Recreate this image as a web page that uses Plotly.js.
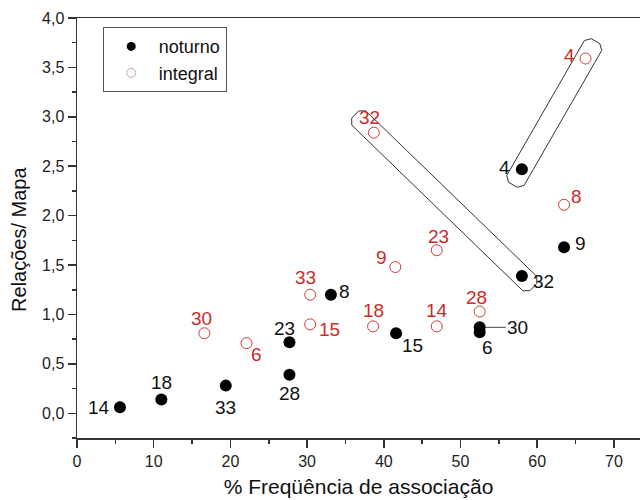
<!DOCTYPE html>
<html>
<head>
<meta charset="utf-8">
<script src="https://cdn.plot.ly/plotly-3.0.1.min.js"></script>
<style>body{margin:0;background:#fff}#chart{width:640px;height:500px}</style>
</head>
<body>
<div id="chart"></div>
<script>
// ---- data ----
const noturnoLabels = ['14','18','33','28','23','8','15','30','6','32','9','4'];
const noturnoX = [5.6, 11.0, 19.4, 27.7, 27.7, 33.1, 41.6, 52.5, 52.5, 58.0, 63.5, 58.0];
const noturnoY = [0.06, 0.14, 0.28, 0.39, 0.72, 1.20, 0.81, 0.87, 0.82, 1.39, 1.68, 2.47];

const integralLabels = ['30','6','33','15','18','9','23','14','28','32','8','4'];
const integralX = [16.6, 22.1, 30.4, 30.4, 38.6, 41.5, 46.9, 46.9, 52.5, 38.7, 63.5, 66.3];
const integralY = [0.81, 0.71, 1.20, 0.90, 0.88, 1.48, 1.65, 0.88, 1.03, 2.84, 2.11, 3.59];

// ---- label placement (pixel offsets, dy down) ----
const noturnoOff = [[-21,0],[0,-17],[0,22],[0,19],[-5,-14],[14,-3],[16,12],[38,0],[8,15],[22,6],[16,-4],[-17,-2]];
const integralOff = [[-3,-15],[10,11],[-5,-17],[19,5],[0,-16],[-14,-10],[2,-14],[0,-16],[-3,-14],[-4,-15],[12,-8],[-16,-3]];

// ---- layout geometry ----
const W = 640, H = 500;
const M = {l: 77, r: 0, t: 18, b: 62};
const xRange = [0, 73.4], yRange = [-0.25, 4.0];
const plotW = W - M.l - M.r, plotH = H - M.t - M.b;
const sx = plotW / (xRange[1] - xRange[0]);
const sy = plotH / (yRange[1] - yRange[0]);
const toPx = (x, y) => [M.l + (x - xRange[0]) * sx, M.t + (yRange[1] - y) * sy];
const toData = (px, py) => [xRange[0] + (px - M.l) / sx, yRange[1] - (py - M.t) / sy];

function capsule(p1, p2, e1, e2, w, c) {
  const a = toPx(p1[0], p1[1]), b = toPx(p2[0], p2[1]);
  const dx = b[0] - a[0], dy = b[1] - a[1];
  const L = Math.hypot(dx, dy);
  const u = [dx / L, dy / L], n = [-u[1], u[0]];
  const pts = [[-e1, -w + c], [-e1 + c, -w], [L + e2 - c, -w], [L + e2, -w + c],
               [L + e2, w - c], [L + e2 - c, w], [-e1 + c, w], [-e1, w - c]];
  const path = pts.map((p, i) => {
    const px = a[0] + u[0] * p[0] + n[0] * p[1];
    const py = a[1] + u[1] * p[0] + n[1] * p[1];
    const d = toData(px, py);
    return (i ? 'L' : 'M') + d[0].toFixed(4) + ',' + d[1].toFixed(4);
  }).join(' ') + ' Z';
  return {type: 'path', xref: 'x', yref: 'y', path: path, line: {color: '#333', width: 1}};
}

const RED = '#cc2b2b';
const FONT = 'Liberation Sans, Arial, sans-serif';
const LBL = 19;

const traces = [
  {type: 'scatter', mode: 'markers', name: 'noturno', x: noturnoX, y: noturnoY, showlegend: false,
   marker: {symbol: 'circle', size: 12, color: '#000'}},
  {type: 'scatter', mode: 'markers', name: 'integral', x: integralX, y: integralY, showlegend: false,
   marker: {symbol: 'circle-open', size: 11, color: '#d03a3a', line: {width: 1, color: '#d03a3a'}}},
  // legend entries (smaller symbols, as in the reference legend)
  {type: 'scatter', mode: 'markers', name: 'noturno', x: [null], y: [null],
   marker: {symbol: 'circle', size: 9, color: '#000'}},
  {type: 'scatter', mode: 'markers', name: 'integral', x: [null], y: [null],
   marker: {symbol: 'circle-open', size: 9, color: '#d9a3a3', line: {width: 1, color: '#d9a3a3'}}}
];

const annotations = [];
noturnoLabels.forEach((t, i) => {
  const o = noturnoOff[i];
  if (t === '30') {
    annotations.push({x: noturnoX[i], y: noturnoY[i], xref: 'x', yref: 'y', text: t,
      showarrow: true, arrowhead: 0, arrowwidth: 1, arrowcolor: '#444', ax: o[0], ay: o[1], standoff: 6,
      font: {size: LBL, color: '#111', family: FONT}});
  } else {
    annotations.push({x: noturnoX[i], y: noturnoY[i], xref: 'x', yref: 'y', text: t, showarrow: false,
      xshift: o[0], yshift: -o[1], font: {size: LBL, color: '#111', family: FONT}});
  }
});
integralLabels.forEach((t, i) => {
  const o = integralOff[i];
  annotations.push({x: integralX[i], y: integralY[i], xref: 'x', yref: 'y', text: t, showarrow: false,
    xshift: o[0], yshift: -o[1], font: {size: LBL, color: RED, family: FONT}});
});
// y axis title
annotations.push({xref: 'paper', yref: 'paper', x: -0.102, y: 0.473, xanchor: 'center', yanchor: 'middle',
  text: 'Relações/ Mapa', textangle: -90, showarrow: false, font: {size: 20, color: '#111', family: FONT}});

const iN4 = noturnoLabels.indexOf('4'), iI4 = integralLabels.indexOf('4');
const iN32 = noturnoLabels.indexOf('32'), iI32 = integralLabels.indexOf('32');
const shapes = [
  capsule([noturnoX[iN4], noturnoY[iN4]], [integralX[iI4], integralY[iI4]], 18, 20, 10, 5),
  capsule([integralX[iI32], integralY[iI32]], [noturnoX[iN32], noturnoY[iN32]], 26, 16, 10, 5)
];

const axisCommon = {
  showgrid: false, zeroline: false, showline: true, linecolor: '#333', linewidth: 1.5,
  ticks: 'outside', ticklen: 8, tickwidth: 1.5, tickcolor: '#333',
  tickfont: {size: 16, color: '#222', family: FONT}
};

const layout = {
  width: W, height: H, margin: M,
  paper_bgcolor: '#fff', plot_bgcolor: '#fff',
  separators: ',.',
  font: {family: FONT, color: '#222'},
  showlegend: true,
  legend: {x: 0.0457, y: 0.978, xanchor: 'left', yanchor: 'top', bgcolor: '#fff',
    bordercolor: '#555', borderwidth: 1, font: {size: 18, color: '#111', family: FONT},
    tracegroupgap: 0, itemwidth: 45},
  xaxis: Object.assign({}, axisCommon, {
    range: xRange, dtick: 10, tick0: 0, mirror: true,
    minor: {dtick: 5, ticks: 'outside', ticklen: 4, tickwidth: 1.5, tickcolor: '#333'},
    title: {text: '% Freqüência de associação', font: {size: 21, color: '#111', family: FONT}, standoff: 10}
  }),
  yaxis: Object.assign({}, axisCommon, {
    range: yRange, dtick: 0.5, tick0: 0, tickformat: '.1f',
    minor: {dtick: 0.25, ticks: 'outside', ticklen: 4, tickwidth: 1.5, tickcolor: '#333'},
    title: {text: ''}
  }),
  annotations: annotations,
  shapes: shapes
};

Plotly.newPlot('chart', traces, layout, {staticPlot: true, displayModeBar: false});
</script>
</body>
</html>
